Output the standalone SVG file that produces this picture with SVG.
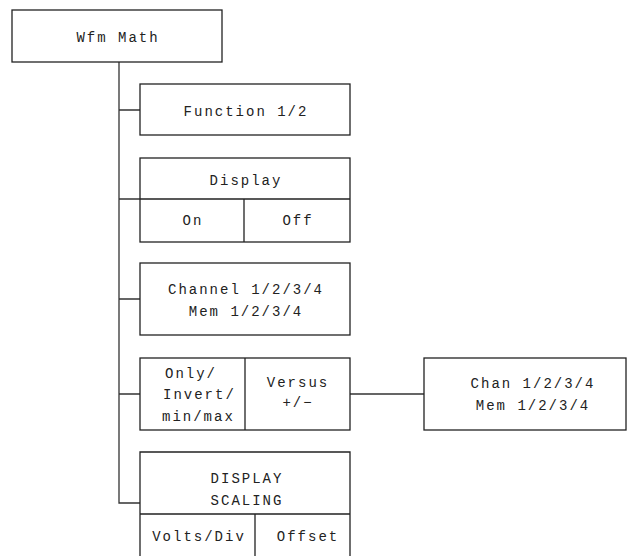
<svg xmlns="http://www.w3.org/2000/svg" width="628" height="556" viewBox="0 0 628 556">
<style>
.b{fill:none;stroke:#222;stroke-width:1.3}
.c{fill:none;stroke:#333;stroke-width:1.3}
text{font-family:"Liberation Mono","Courier New",monospace;font-size:14px;letter-spacing:2px;fill:#222;text-anchor:middle}
.s{text-anchor:start}
</style>
<rect width="628" height="556" fill="#fff"/>
<g id="connectors">
<path class="c" d="M119 62V503H140M119 110H140M119 199H140M119 299H140M119 394H140M350 394H424"/>
</g>
<g id="wfm-math">
<rect class="b" x="12" y="10" width="210" height="52"/>
<text x="118" y="42">Wfm Math</text>
</g>
<g id="function">
<rect class="b" x="140" y="84" width="210" height="51"/>
<text x="246" y="116">Function 1/2</text>
</g>
<g id="display">
<rect class="b" x="140" y="158" width="210" height="84"/>
<path class="b" d="M140 199H350M244 199V242"/>
<text x="246" y="185">Display</text>
<text x="193" y="225">On</text>
<text x="298" y="225">Off</text>
</g>
<g id="channel">
<rect class="b" x="140" y="263" width="210" height="72"/>
<text x="246" y="294">Channel 1/2/3/4</text>
<text x="246" y="316">Mem 1/2/3/4</text>
</g>
<g id="only-versus">
<rect class="b" x="140" y="358" width="210" height="72"/>
<path class="b" d="M245 358V430"/>
<text class="s" x="165" y="378">Only/</text>
<text class="s" x="163" y="399">Invert/</text>
<text class="s" x="162" y="421">min/max</text>
<text x="298" y="387">Versus</text>
<text x="298" y="407">+/−</text>
</g>
<g id="chan-mem">
<rect class="b" x="424" y="358" width="202" height="72"/>
<text x="533" y="388">Chan 1/2/3/4</text>
<text x="533" y="410">Mem 1/2/3/4</text>
</g>
<g id="display-scaling">
<path class="b" d="M140 557V452H350V557M140 514H350M255 514V557"/>
<text x="247" y="483">DISPLAY</text>
<text x="247" y="505">SCALING</text>
<text x="199" y="541">Volts/Div</text>
<text x="308" y="541">Offset</text>
</g>
</svg>
